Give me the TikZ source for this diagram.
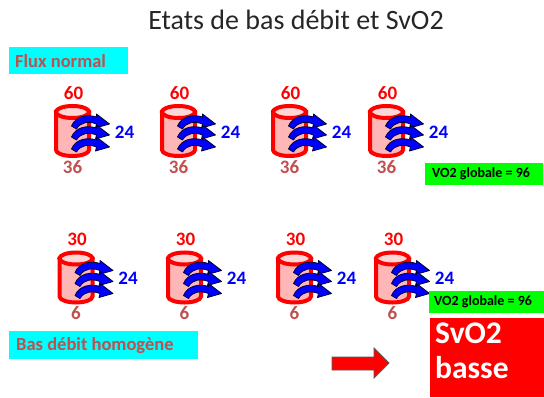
\documentclass[tikz,border=0pt]{standalone}
\usepackage{fontspec}
\setmainfont{Carlito}
\usetikzlibrary{positioning}
\definecolor{rouge}{RGB}{255,0,0}
\definecolor{brique}{RGB}{192,80,77}
\definecolor{bleu}{RGB}{0,0,255}
\definecolor{turquoise}{RGB}{0,255,255}
\definecolor{vert}{RGB}{0,255,0}
\definecolor{roseclair}{RGB}{255,214,214}
\definecolor{rosefonce}{RGB}{255,182,182}
\newcommand{\chiffre}{\fontsize{19}{22}\selectfont\bfseries}
\newcommand{\titref}{\fontsize{28}{32}\selectfont}

\tikzset{
  paroi/.style={draw=rouge, line width=4pt},
  flux/.style={fill=bleu, draw=bleu!20!black, line width=0.8pt, line join=round},
  haut/.style={text=rouge, font=\chiffre, inner sep=0pt},
  bas/.style={text=brique, font=\chiffre, inner sep=0pt},
  debit/.style={text=bleu, font=\chiffre, inner sep=0pt},
  bandeau/.style={fill=turquoise, anchor=north west, inner sep=0pt},
  bandtexte/.style={text=brique, anchor=west, inner sep=0pt,
    font=\fontsize{18.5}{22}\selectfont\bfseries},
  globale/.style={fill=vert, anchor=north west, inner sep=0pt, minimum height=22pt},
  globtexte/.style={anchor=west, inner sep=0pt, font=\fontsize{14}{16}\selectfont\bfseries},
  pics/vague/.style={code={
    \filldraw[flux] (0,-4) .. controls (4,6) and (16,8) .. (25,5) -- (25,8) -- (38,-2)
      -- (24,-6) -- (25,-2) .. controls (17,1) and (9,0) .. (5,-7) -- cycle;
  }}
}

% un capillaire : #1 nom, #2 x, #3 y, #4 entree, #5 sortie
\newcommand{\cuve}[5]{%
  \begin{scope}[shift={(#2,#3)}]
    \filldraw[paroi, fill=rosefonce] (-16.5,19) -- (-16.5,-19)
      arc[start angle=180, end angle=360, x radius=16.5pt, y radius=6pt] -- (16.5,19) -- cycle;
    \filldraw[paroi, fill=roseclair] (0,19) ellipse [x radius=16.5pt, y radius=6pt];
    \pic at (-1,9) {vague};
    \pic at (-1,-2) {vague};
    \pic at (-1,-14) {vague};
    \node[haut] (#1h) at (1,38) {#4};
    \node[bas] (#1b) at (0,-36) {#5};
    \node[debit] (#1d) at (52,-1) {24};
  \end{scope}}

\begin{document}
\begin{tikzpicture}[x=1pt, y=1pt]
\useasboundingbox (0,0) rectangle (544,397);

% titre
\node[text=black!85, font=\titref] (titre) at (296,377) {Etats de bas débit et SvO2};

% debit normal
\node[bandeau, minimum width=119pt, minimum height=27pt] (normal) at (9,350) {};
\node[bandtexte, right=6pt of normal.west] (normalt) {Flux normal};
\cuve{na}{72.5}{266}{60}{36}
\cuve{nb}{178.5}{266}{60}{36}
\cuve{nc}{289.5}{266}{60}{36}
\cuve{nd}{386.5}{266}{60}{36}
\node[globale, minimum width=118pt] (vonormal) at (425,234) {};
\node[globtexte, right=7pt of vonormal.west] (vonormalt) {VO2 globale = 96};

% bas debit
\cuve{ba}{76}{119.5}{30}{6}
\cuve{bb}{184.5}{119.5}{30}{6}
\cuve{bc}{294.5}{119.5}{30}{6}
\cuve{bd}{392.5}{119.5}{30}{6}
\node[globale, minimum width=115pt] (vobas) at (429,106) {};
\node[globtexte, right=5pt of vobas.west] (vobast) {VO2 globale = 96};
\node[bandeau, minimum width=189pt, minimum height=28pt] (homogene) at (9,66) {};
\node[bandtexte, right=7pt of homogene.west] (homogenet) {Bas débit homogène};

% consequence
\filldraw[fill=rouge, draw=black!65, line width=0.8pt] (332,40) -- (374,40) -- (374,49)
  -- (389,34) -- (374,19) -- (374,27) -- (332,27) -- cycle;
\node[fill=rouge, anchor=north west, inner sep=0pt, minimum width=114pt,
  minimum height=79pt] (svo) at (430,79) {};
\node[text=white, anchor=north west, align=left, inner sep=0pt,
  font=\fontsize{31.5}{35}\selectfont\bfseries] (svot) at (435,74) {SvO2\\basse};
\end{tikzpicture}
\end{document}
